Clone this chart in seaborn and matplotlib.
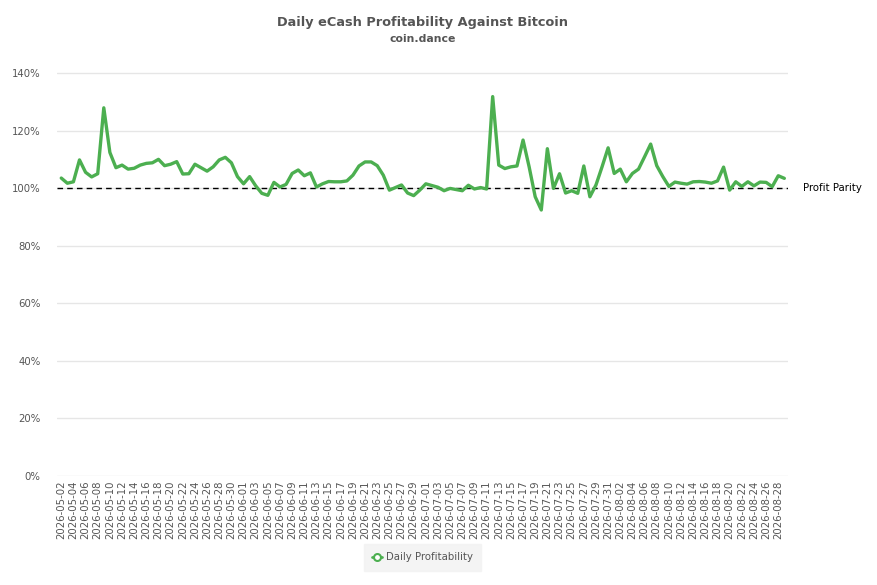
import numpy as np
import pandas as pd
import matplotlib
matplotlib.use("Agg")
import matplotlib.pyplot as plt
import seaborn as sns
from matplotlib.ticker import FuncFormatter

# ---- data ----
start_date = "2026-05-02"
profitability = [
    103.5, 101.7, 102.2, 109.8, 105.5, 103.9, 105.0, 127.9, 112.4, 107.1,
    108.0, 106.6, 106.9, 108.0, 108.6, 108.8, 110.0, 107.8, 108.3, 109.2,
    104.9, 105.0, 108.3, 107.1, 105.9, 107.4, 109.8, 110.7, 108.8, 104.0,
    101.5, 104.0, 100.8, 98.2, 97.5, 102.0, 100.4, 101.3, 105.1, 106.3,
    104.3, 105.3, 100.4, 101.5, 102.3, 102.2, 102.2, 102.5, 104.5, 107.7,
    109.1, 109.1, 107.8, 104.5, 99.3, 100.2, 101.1, 98.3, 97.4, 99.3,
    101.5, 100.9, 100.3, 99.1, 99.9, 99.5, 99.1, 101.0, 99.7, 100.2,
    99.7, 131.8, 108.0, 106.8, 107.4, 107.7, 116.7, 107.4, 97.0, 92.4,
    113.7, 99.9, 105.0, 98.3, 99.1, 98.2, 107.7, 97.0, 101.1, 107.4,
    114.0, 105.1, 106.6, 102.2, 105.1, 106.6, 110.9, 115.3, 107.8, 104.0,
    100.6, 102.1, 101.7, 101.4, 102.2, 102.3, 102.1, 101.7, 102.5, 107.3,
    99.3, 102.2, 100.6, 102.2, 100.8, 102.1, 102.0, 100.5, 104.3, 103.4,
]
dates = pd.date_range(start_date, periods=len(profitability), freq="D").strftime("%Y-%m-%d").tolist()
y_ticks = [0, 20, 40, 60, 80, 100, 120, 140]
parity_level = 100
series_name = "Daily Profitability"
title = "Daily eCash Profitability Against Bitcoin"
subtitle = "coin.dance"

df = pd.DataFrame({"idx": np.arange(len(profitability)), "date": dates, "value": profitability})

# ---- style ----
sns.set_theme(style="white")
plt.rcParams["font.family"] = ["DejaVu Sans"]
green = "#4caf50"
gray_text = "#555555"

fig = plt.figure(figsize=(8.77, 5.85), dpi=100)
ax = fig.add_axes([0.065, 0.1863, 0.8335, 0.6988])

ax.axhline(parity_level, color="black", linestyle=(0, (4, 3)), linewidth=1.0, zorder=2)
sns.lineplot(data=df, x="idx", y="value", ax=ax, color=green, linewidth=2.4,
             label=series_name, zorder=3, legend=False)

ax.set_xlim(-0.7, len(profitability) - 1 + 0.6)
ax.set_ylim(0, 142)
ax.set_yticks(y_ticks)
ax.yaxis.set_major_formatter(FuncFormatter(lambda v, p: f"{v:.0f}%"))
ax.grid(axis="y", color="#e6e6e6", linewidth=1.0, zorder=0)
ax.grid(axis="x", visible=False)

tick_idx = df["idx"].iloc[::2].tolist()
ax.set_xticks(tick_idx)
ax.set_xticklabels(df["date"].iloc[::2].tolist(), rotation=90)
ax.tick_params(axis="x", labelsize=7.3, colors=gray_text, length=0, pad=3)
ax.tick_params(axis="y", labelsize=7.3, colors=gray_text, length=0, pad=12)
ax.set_xlabel("")
ax.set_ylabel("")
for s in ax.spines.values():
    s.set_visible(False)

ax.text(1.0205, parity_level, "Profit Parity", transform=ax.get_yaxis_transform(),
        ha="left", va="center", fontsize=7.3, color="black")

ax.text(0.5, 1.0 + (67 - 22) / 409, title, transform=ax.transAxes, ha="center", va="center",
        fontsize=9.25, fontweight="bold", color=gray_text)
ax.text(0.5, 1.0 + (67 - 39) / 409, subtitle, transform=ax.transAxes, ha="center", va="center",
        fontsize=7.8, fontweight="bold", color=gray_text)

handle = plt.Line2D([], [], color=green, linewidth=2.0, marker="o", markersize=5,
                    markerfacecolor="white", markeredgecolor=green, markeredgewidth=1.5)
leg = fig.legend([handle], [series_name], loc="center", bbox_to_anchor=(422.5 / 877, 1 - 557.5 / 585),
                 frameon=True, fontsize=7.3, handlelength=1.0, handletextpad=0.4,
                 borderpad=0.8, fancybox=False)
leg.get_frame().set_facecolor("#f2f2f2")
leg.get_frame().set_edgecolor("#f2f2f2")
for t in leg.get_texts():
    t.set_color(gray_text)

fig.savefig("out.png", dpi=100)
